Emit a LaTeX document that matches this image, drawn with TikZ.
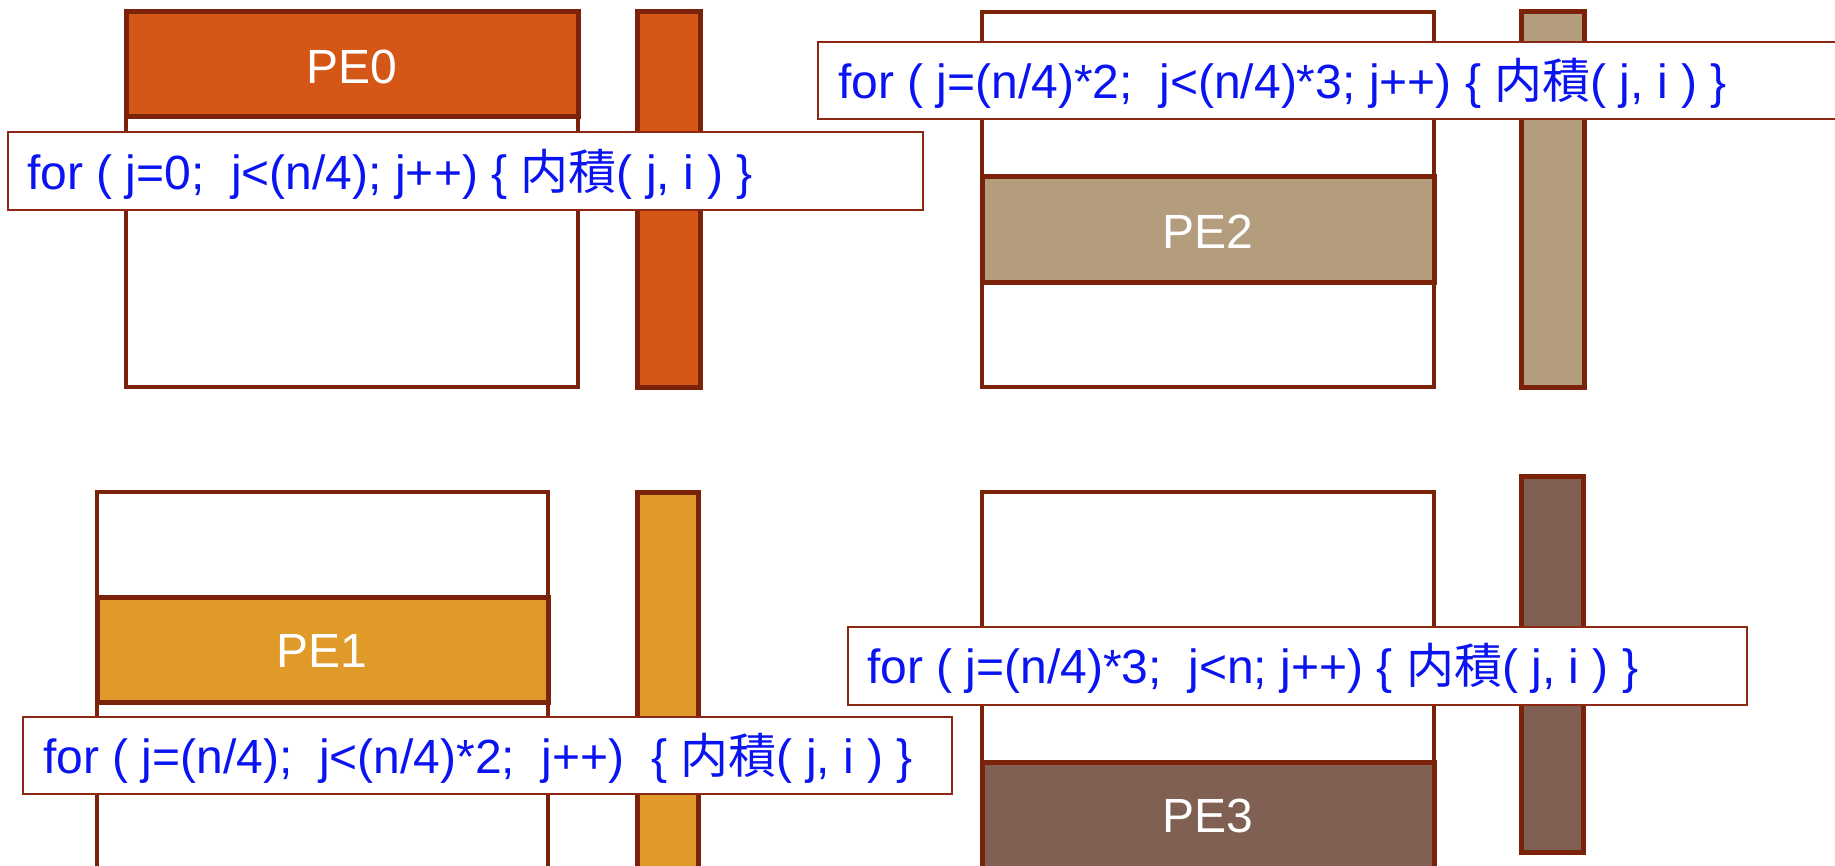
\documentclass[tikz,border=0pt]{standalone}
\usepackage{fontspec}
\setmainfont{Liberation Sans}
\newfontfamily\cjk{Noto Sans CJK JP}
\definecolor{peA}{RGB}{213,87,24}
\definecolor{peB}{RGB}{224,154,41}
\definecolor{peC}{RGB}{179,157,125}
\definecolor{peD}{RGB}{127,96,82}
\definecolor{edge}{RGB}{123,35,10}
\definecolor{codeedge}{RGB}{140,40,20}
\definecolor{codeblue}{RGB}{10,20,240}
\begin{document}
\begin{tikzpicture}[x=1pt,y=-1pt,
  matbox/.style={draw=edge,line width=4.5pt,fill=white,rectangle,inner sep=0pt,outer sep=0pt,anchor=north west},
  band/.style={draw=edge,line width=5pt,rectangle,inner sep=0pt,outer sep=0pt,anchor=north west},
  bar/.style={draw=edge,line width=5pt,rectangle,inner sep=0pt,outer sep=0pt,anchor=north west},
  codebox/.style={draw=codeedge,line width=1.8pt,fill=white,rectangle,inner sep=0pt,outer sep=0pt,anchor=north west},
  codetext/.style={text=codeblue,font=\fontsize{48}{56}\selectfont,inner sep=0pt,anchor=base west},
  pelabel/.style={text=white,font=\fontsize{48}{56}\selectfont,inner sep=0pt}]
\clip (0,0) rectangle (1835,866);
\fill[white] (0,0) rectangle (1835,866);
% matrices
\node[matbox,minimum width=452,minimum height=375] (m0) at (126,12) {};
\node[matbox,minimum width=451,minimum height=420] (m1) at (97,492) {};
\node[matbox,minimum width=452,minimum height=375] (m2) at (982,12) {};
\node[matbox,minimum width=452,minimum height=420] (m3) at (982,492) {};
% bands
\node[band,fill=peA,minimum width=452,minimum height=105] (b0) at (126,12) {};
\node[band,fill=peB,minimum width=451,minimum height=105] (b1) at (97,597) {};
\node[band,fill=peC,minimum width=452,minimum height=106] (b2) at (982,177) {};
\node[band,fill=peD,minimum width=452,minimum height=130] (b3) at (982,762) {};
\node[pelabel] (l0) at (352,67) {PE0};
\node[pelabel] (l1) at (322,651) {PE1};
\node[pelabel] (l2) at (1208,232) {PE2};
\node[pelabel] (l3) at (1208,816) {PE3};
% vectors
\node[bar,fill=peA,minimum width=63,minimum height=375] (v0) at (637,12) {};
\node[bar,fill=peB,minimum width=61,minimum height=420] (v1) at (637,492) {};
\node[bar,fill=peC,minimum width=63,minimum height=375] (v2) at (1521,12) {};
\node[bar,fill=peD,minimum width=62,minimum height=376] (v3) at (1521,476) {};
% code boxes
\node[codebox,minimum width=915,minimum height=78] (c0) at (8,132) {};
\node[codetext] (t0) at (27,190) {for ( j=0;\ \ j<(n/4); j++) \{ {\cjk 内積}( j, i ) \}};
\node[codebox,minimum width=1030,minimum height=77] (c2) at (818,42) {};
\node[codetext] (t2) at (838,99) {for ( j=(n/4)*2;\ \ j<(n/4)*3; j++) \{ {\cjk 内積}( j, i ) \}};
\node[codebox,minimum width=929,minimum height=77] (c1) at (23,717) {};
\node[codetext] (t1) at (43,773) {for ( j=(n/4);\ \ j<(n/4)*2;\ \ j++)\ \ \{ {\cjk 内積}( j, i ) \}};
\node[codebox,minimum width=899,minimum height=78] (c3) at (848,627) {};
\node[codetext] (t3) at (867,683) {for ( j=(n/4)*3;\ \ j<n; j++) \{ {\cjk 内積}( j, i ) \}};
\end{tikzpicture}
\end{document}
